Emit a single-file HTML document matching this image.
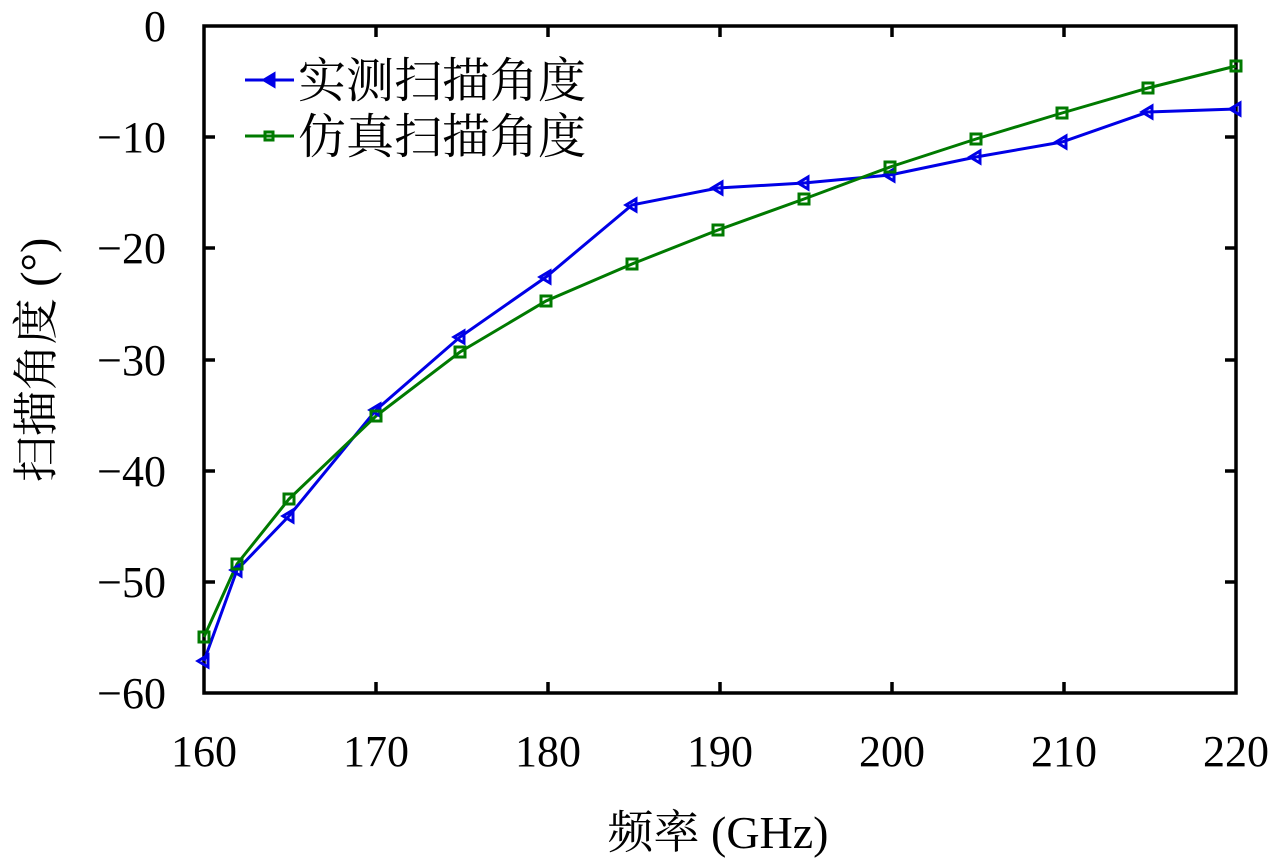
<!DOCTYPE html>
<html><head><meta charset="utf-8"><style>body{margin:0;background:#fff}</style></head><body>
<svg width="1280" height="858" xmlns="http://www.w3.org/2000/svg" font-family="'Liberation Serif','Noto Serif CJK SC',serif">
<rect width="1280" height="858" fill="#fff"/>
<g stroke="#000" stroke-width="3.5">
<rect x="204" y="26" width="1032" height="667" fill="none"/>
<path d="M376 693v-11M548 693v-11M720 693v-11M892 693v-11M1064 693v-11M376 26v11M548 26v11M720 26v11M892 26v11M1064 26v11M204 137h11M204 248h11M204 360h11M204 471h11M204 582h11M1236 137h-11M1236 248h-11M1236 360h-11M1236 471h-11M1236 582h-11"/>
</g>
<g font-size="44" text-anchor="middle">
<text x="204" y="766">160</text><text x="376" y="766">170</text><text x="548" y="766">180</text><text x="720" y="766">190</text><text x="892" y="766">200</text><text x="1064" y="766">210</text><text x="1236" y="766">220</text>
</g>
<g font-size="44" text-anchor="end">
<text x="166" y="41">0</text><text x="166" y="152">−10</text><text x="166" y="263">−20</text><text x="166" y="375">−30</text><text x="166" y="486">−40</text><text x="166" y="597">−50</text><text x="166" y="708">−60</text>
</g>
<text x="718" y="848" font-size="46" text-anchor="middle">频率 (GHz)</text>
<text transform="translate(52,360) rotate(-90)" font-size="46" text-anchor="middle">扫描角度 (°)</text>
<polyline fill="none" stroke="#0000e6" stroke-width="3" points="204,661 237,570 289,516 376,410 460,337 546,277 632,205 718,188 804,183 890,175 976,157 1062,142 1148,112 1236,109"/>
<polyline fill="none" stroke="#007a00" stroke-width="3" points="204,637 237,564 289,499 376,416 460,352 546,301 632,264 718,230 804,199 890,167 976,139 1062,113 1148,88 1236,66"/>
<g fill="none" stroke="#0000e6" stroke-width="3">
<path d="M198,661l10,-6v12z M231,570l10,-6v12z M283,516l10,-6v12z M370,410l10,-6v12z M454,337l10,-6v12z M540,277l10,-6v12z M626,205l10,-6v12z M712,188l10,-6v12z M798,183l10,-6v12z M884,175l10,-6v12z M970,157l10,-6v12z M1056,142l10,-6v12z M1142,112l10,-6v12z M1230,109l10,-6v12z"/>
</g>
<g fill="none" stroke="#007a00" stroke-width="3">
<path d="M199,632h10v10h-10z M232,559h10v10h-10z M284,494h10v10h-10z M371,411h10v10h-10z M455,347h10v10h-10z M541,296h10v10h-10z M627,259h10v10h-10z M713,225h10v10h-10z M799,194h10v10h-10z M885,162h10v10h-10z M971,134h10v10h-10z M1057,108h10v10h-10z M1143,83h10v10h-10z M1231,61h10v10h-10z"/>
</g>
<line x1="245" y1="80" x2="294" y2="80" stroke="#0000e6" stroke-width="3"/>
<path d="M264,80l10,-6v12z" fill="#0000e6" stroke="#0000e6" stroke-width="3"/>
<line x1="245" y1="136" x2="294" y2="136" stroke="#007a00" stroke-width="3"/>
<path d="M265,132h8v8h-8z" fill="none" stroke="#007a00" stroke-width="3"/>
<text x="298" y="97" font-size="48">实测扫描角度</text>
<text x="298" y="153" font-size="48">仿真扫描角度</text>
</svg>
</body></html>
